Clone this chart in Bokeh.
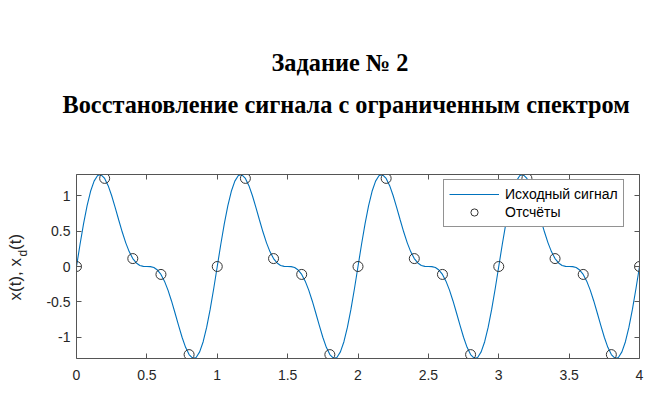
import numpy as np
from bokeh.plotting import figure
from bokeh.models import Range1d, FixedTicker, LinearAxis, Legend, LegendItem, Title
from bokeh.embed import file_html
from bokeh.resources import INLINE

# ---- data ----
# one period (T = 1) of the original signal, read every 0.025
period_vals = [0.0, 0.311, 0.603, 0.858, 1.063, 1.207, 1.285, 1.296, 1.245, 1.142,
               1.0, 0.833, 0.657, 0.487, 0.334, 0.207, 0.112, 0.050, 0.015, 0.002,
               0.0, -0.002, -0.015, -0.050, -0.112, -0.207, -0.334, -0.487, -0.657, -0.833,
               -1.0, -1.142, -1.245, -1.296, -1.285, -1.207, -1.063, -0.858, -0.603, -0.311]
n_periods = 4
curve_x = period_vals * n_periods + [0.0]
curve_t = list(np.linspace(0, 4, len(curve_x)))

sample_period = [0.0, 1.245, 0.112, -0.112, -1.245]
sample_x = sample_period * n_periods + [0.0]
sample_t = [round(0.2 * k, 1) for k in range(len(sample_x))]

x_ticks = [0, 0.5, 1, 1.5, 2, 2.5, 3, 3.5, 4]
x_tick_labels = ["0", "0.5", "1", "1.5", "2", "2.5", "3", "3.5", "4"]
y_ticks = [-1, -0.5, 0, 0.5, 1]
y_tick_labels = ["-1", "-0.5", "0", "0.5", "1"]

title1 = "Задание № 2"
title2 = "Восстановление сигнала с ограниченным спектром"
legend_labels = ["Исходный сигнал", "Отсчёты"]
ylabel_main = "x(t), x \u2009(t)"
ylabel_sub = "\u00a0" * 8 + "d"

AX = "#262626"

p = figure(width=666, height=394, output_backend="svg", toolbar_location=None,
           x_range=Range1d(0, 4), y_range=Range1d(-1.3, 1.3),
           min_border_left=76, min_border_right=27, min_border_top=174, min_border_bottom=36,
           x_axis_location=None, y_axis_location=None)
p.background_fill_color = "white"
p.border_fill_color = "white"
p.outline_line_color = None
p.xgrid.visible = False
p.ygrid.visible = False

def make_axis(ticks, labels, show_labels):
    ax = LinearAxis(ticker=FixedTicker(ticks=ticks))
    if show_labels:
        ax.major_label_overrides = {t: l for t, l in zip(ticks, labels)}
    else:
        ax.major_label_overrides = {t: "" for t in ticks}
    ax.major_tick_in = 5
    ax.major_tick_out = 0
    ax.minor_tick_in = 0
    ax.minor_tick_out = 0
    ax.axis_line_color = "#555555"
    ax.major_tick_line_color = "#555555"
    ax.major_label_text_color = AX
    ax.major_label_text_font = "Liberation Sans"
    ax.major_label_text_font_size = "14px"
    return ax

xb = make_axis(x_ticks, x_tick_labels, True)
xb.major_label_standoff = 11
yl = make_axis(y_ticks, y_tick_labels, True)
yl.major_label_standoff = 6
# subscript "d" of the y label
yl.axis_label = ylabel_sub
yl.axis_label_text_font = "Liberation Sans"
yl.axis_label_text_font_style = "normal"
yl.axis_label_text_font_size = "12px"
yl.axis_label_text_color = AX
yl.axis_label_standoff = 13
xt = make_axis(x_ticks, x_tick_labels, False)
xt.major_label_standoff = 0
# blank spacer label: space between the axes box and the titles
xt.axis_label = "\u00a0"
xt.axis_label_text_font_size = "12px"
xt.axis_label_standoff = 40
yr = make_axis(y_ticks, y_tick_labels, False)
yr.major_label_standoff = 0
p.add_layout(xb, "below")
p.add_layout(yl, "left")
p.add_layout(xt, "above")
p.add_layout(yr, "right")

r_line = p.line(curve_t, curve_x, line_color="#0072BD", line_width=1.1)
r_pts = p.scatter(sample_t, sample_x, marker="circle", size=10, fill_color=None,
                  line_color="#333333", line_width=1)

legend = Legend(items=[LegendItem(label=legend_labels[0], renderers=[r_line]),
                       LegendItem(label=legend_labels[1], renderers=[r_pts])],
                location=(367, 131), orientation="vertical")
legend.label_text_font = "Liberation Sans"
legend.label_text_font_size = "14px"
legend.label_text_color = "black"
legend.glyph_width = 50
legend.glyph_height = 18
legend.label_height = 18
legend.label_standoff = 6
legend.spacing = 0
legend.padding = 5
legend.margin = 0
legend.border_line_color = AX
legend.border_line_width = 1
legend.background_fill_color = "white"
legend.background_fill_alpha = 1
p.add_layout(legend, "center")

# ---- titles ----
p.title.text = title1
p.title.align = "left"
p.title.offset = 195
p.title.vertical_align = "bottom"
p.title.text_font = "Liberation Serif"
p.title.text_font_style = "bold"
p.title.text_font_size = "24.3px"
p.title.text_color = "black"
p.title.standoff = 25
t2 = Title(text=title2, align="left", offset=-14, vertical_align="bottom",
           text_font="Liberation Serif", text_font_style="bold", text_font_size="24.3px",
           text_color="black", standoff=0)
p.add_layout(t2, "above")

# ---- y axis label (main part) ----
ty = Title(text=ylabel_main, align="left", offset=58, vertical_align="bottom",
           text_font="Liberation Sans", text_font_style="normal", text_font_size="17px",
           text_color=AX, standoff=-22)
p.add_layout(ty, "left")

open("out.html", "w").write(file_html(p, INLINE))
